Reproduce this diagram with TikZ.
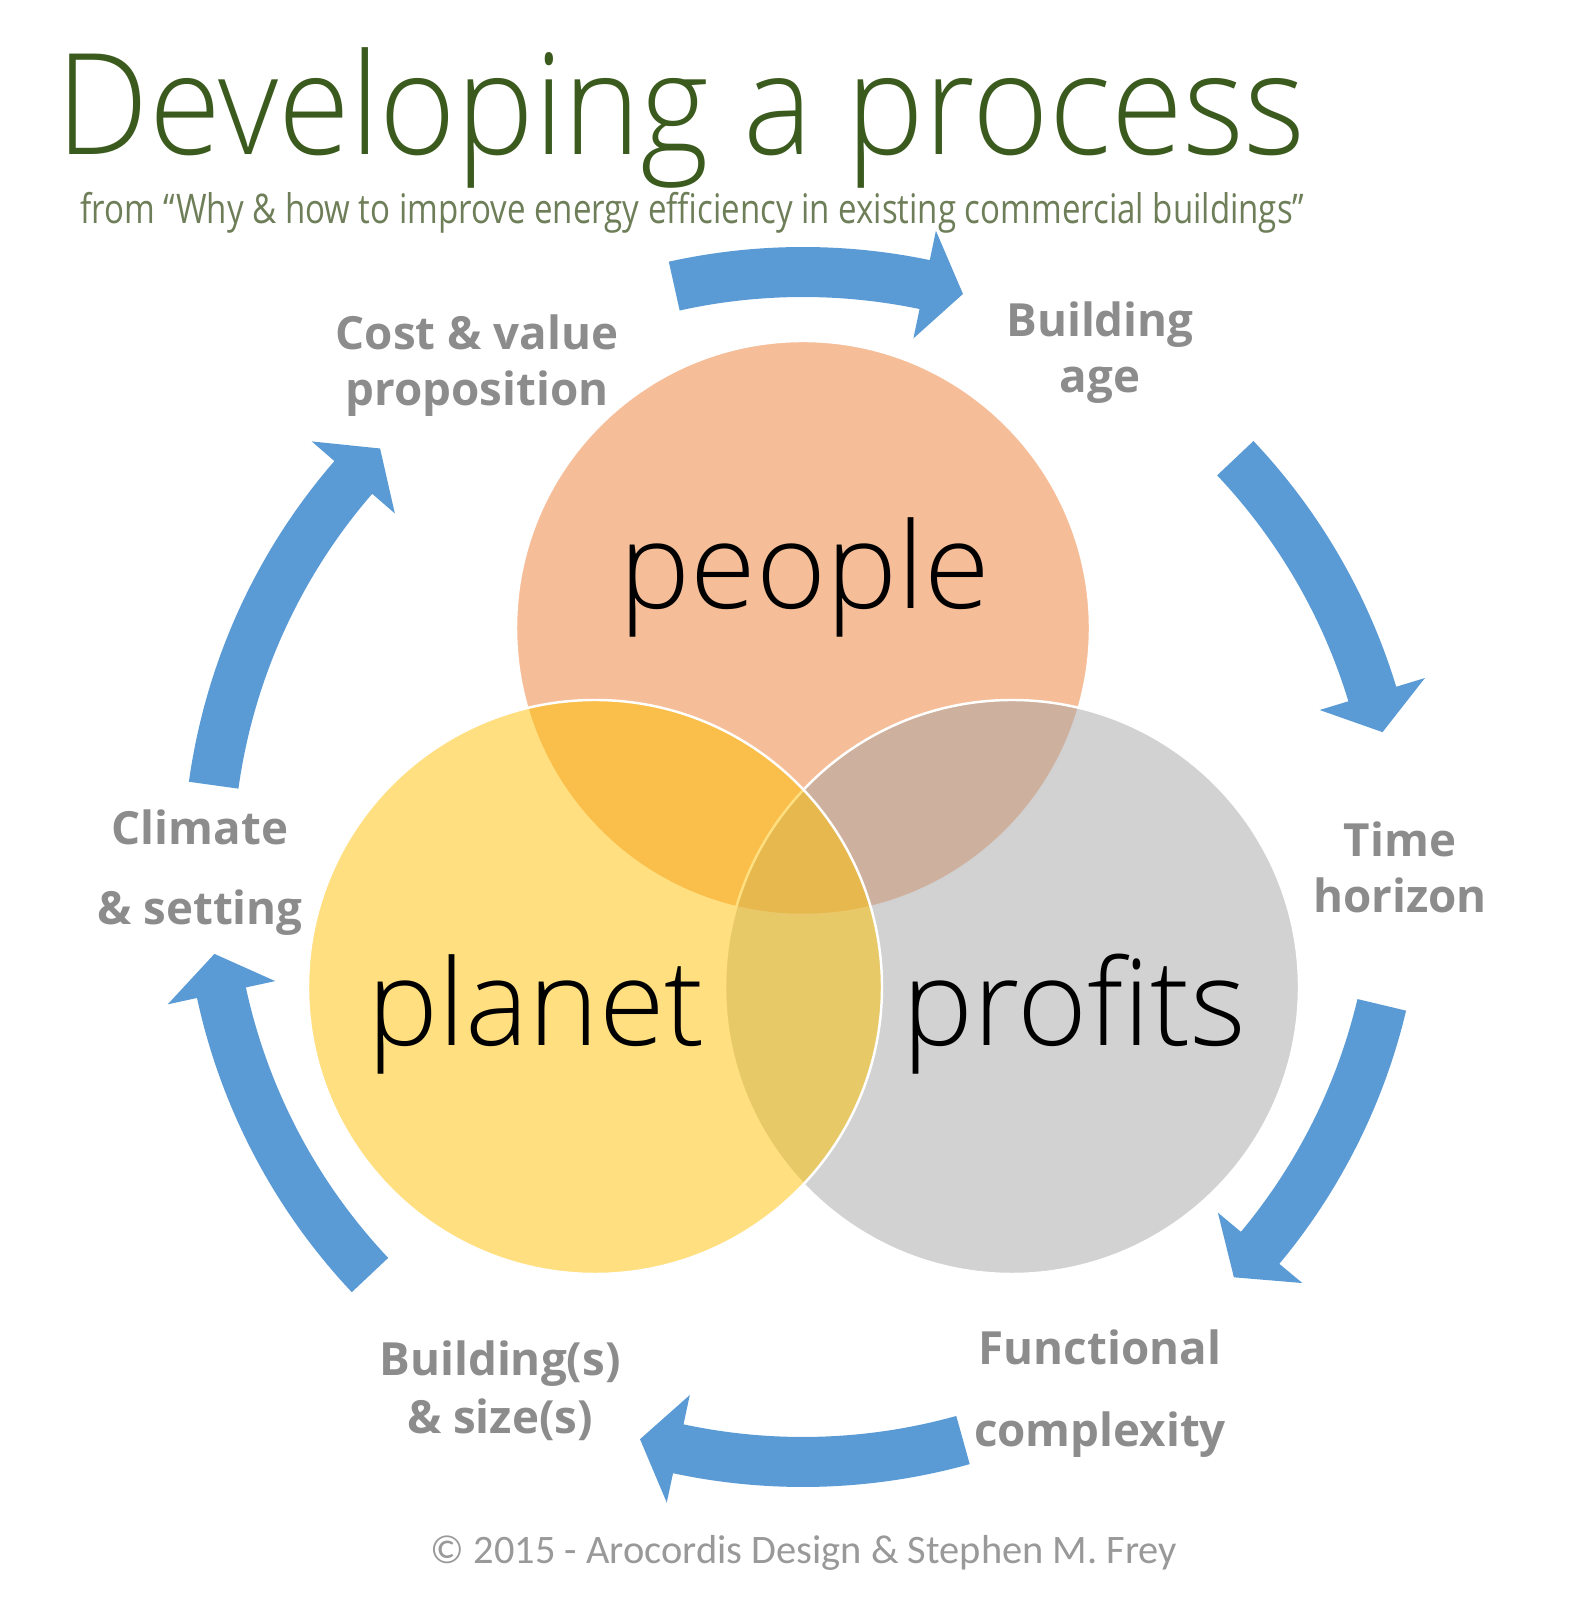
\documentclass[tikz,border=0pt]{standalone}
\usepackage{fontspec}
\setmainfont{Open Sans}
\newfontfamily\lightfont{Open Sans Light}
\newfontfamily\footfont{Carlito}
\definecolor{titlegreen}{HTML}{3B5A1E}
\definecolor{subgreen}{HTML}{6E7E58}
\definecolor{labelgray}{HTML}{8C8C8C}
\definecolor{footgray}{HTML}{999999}
\definecolor{arrowblue}{HTML}{5B9BD5}
\definecolor{peopleorange}{HTML}{ED7D31}
\definecolor{planetgold}{HTML}{FFC000}
\definecolor{profitgray}{HTML}{A5A5A5}
\tikzstyle{disc}=[draw=white, line width=0.7pt, fill opacity=0.5]
\tikzstyle{lbl}=[anchor=base, inner sep=0, text=labelgray, font=\fontsize{13}{15}\selectfont\bfseries]
\tikzstyle{word}=[anchor=base, inner sep=0, font=\lightfont\fontsize{34}{40}\selectfont]
\newcommand{\cyclearrow}[2]{%
  \fill[arrowblue] (#1:620) arc[start angle=#1, end angle=#2+3.8, radius=620]
    -- (#2+3.8:650) -- (#2:595) -- (#2+3.8:540) -- (#2+3.8:570)
    arc[start angle=#2+3.8, end angle=#1, radius=570] -- cycle;}

\begin{document}
\begin{tikzpicture}[x=0.01cm, y=0.01cm]
\useasboundingbox (0,0) rectangle (1594,1600);
\coordinate (c) at (803,733);
\node at (56,1445)[anchor=base west, inner sep=0, text=titlegreen, font=\lightfont\fontsize{40}{48}\selectfont](title){\scalebox{0.93}[1]{Developing a process}};
\node at (80,1376)[anchor=base west, inner sep=0, text=subgreen, font=\fontsize{11.6}{14}\selectfont](sub){\scalebox{0.81}[1]{from “Why \& how to improve energy efficiency in existing commercial buildings”}};
% the three circles
\fill[disc, fill=peopleorange] (803,972) circle (287);
\fill[disc, fill=profitgray] (1012,613) circle (287);
\fill[disc, fill=planetgold] (595,613) circle (287);
\node at (805,991)[word](people){people};
\node at (536,554)[word](planet){planet};
\node at (1074,554)[word](profits){profits};
% arrows round the cycle
\begin{scope}[shift={(c)}]
\cyclearrow{102.5}{74.4}
\cyclearrow{43.4}{13.1}
\cyclearrow{-13.4}{-43.6}
\cyclearrow{-74.4}{-105.9}
\cyclearrow{223.3}{188.4}
\cyclearrow{172.1}{135.3}
\end{scope}
\node at (477,1250)[lbl](cost){Cost \& value};
\node at (477,1194)[lbl](cost2){proposition};
\node at (1100,1263)[lbl](age){Building};
\node at (1100,1207)[lbl](age2){age};
\node at (1400,743)[lbl](time){Time};
\node at (1400,687)[lbl](time2){horizon};
\node at (1100,235)[lbl](func){Functional};
\node at (1100,153)[lbl](func2){complexity};
\node at (500,224)[lbl](size){Building(s)};
\node at (500,166)[lbl](size2){\& size(s)};
\node at (200,755)[lbl](clim){Climate};
\node at (200,675)[lbl](clim2){\& setting};
\node at (804,37)[anchor=base, inner sep=0, text=footgray, font=\footfont\fontsize{11.5}{14}\selectfont](foot){© 2015 - Arocordis Design \& Stephen M. Frey};
\end{tikzpicture}
\end{document}
